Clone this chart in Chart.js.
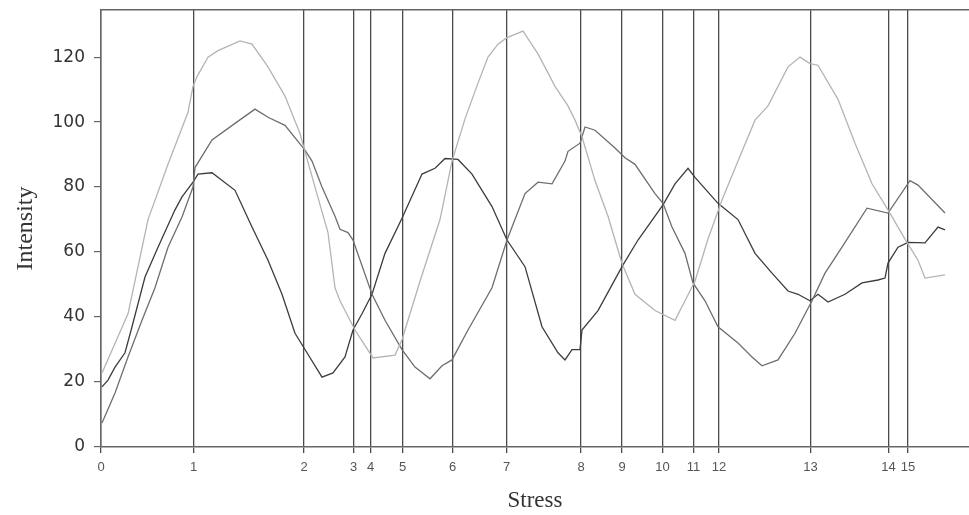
<!DOCTYPE html>
<html>
<head>
<meta charset="utf-8">
<script src="https://cdn.jsdelivr.net/npm/chart.js@4"></script>
<style>
  html, body { margin: 0; padding: 0; background: #fff; }
  #wrap { width: 969px; height: 515px; }
</style>
</head>
<body>
<div id="wrap"><canvas id="chart"></canvas></div>
<script>
// x positions of the stress steps (same units as the curves' x values)
var stressMarks = [0, 18.5, 40.6, 50.5, 53.9, 60.3, 70.3, 81.1, 96, 104.2, 112.3, 118.5, 123.6, 141.9, 157.5, 161.4];
var stressLabels = ['0','1','2','3','4','5','6','7','8','9','10','11','12','13','14','15'];
var yTicks = [0, 20, 40, 60, 80, 100, 120];

// light gray curve
var lightX = [0.2, 5.4, 9.4, 13.4, 17.4, 18.4, 19.2, 21.4, 23.4, 27.8, 30.2, 33.4, 36.8, 39.8, 40.6, 42.8, 45.4, 46.8, 47.8, 50.8, 54.4, 58.8, 60.2, 63.8, 67.8, 70.2, 72.8, 75.4, 77.4, 79.4, 81.2, 84.4, 87.4, 90.8, 93.4, 94.8, 96.2, 98.8, 101.4, 104.2, 106.8, 110.8, 114.8, 116.8, 118.8, 121.4, 124.2, 127.4, 130.8, 133.4, 137.4, 139.8, 141.8, 143.4, 147.4, 150.8, 154.2, 157.4, 160.8, 163.4, 164.8, 168.8];
var lightY = [22.8, 41, 70, 87, 103, 111, 114, 120, 122, 125, 124, 117, 108, 96.5, 92, 80, 66, 49, 45, 36, 27.4, 28.3, 33, 51, 70, 88, 101, 112, 120, 124, 126, 128, 121, 111, 105, 100.6, 95.5, 82, 71, 56.5, 47, 42, 39, 45, 51, 64, 76, 88, 100.6, 105, 117, 120, 118, 117.5, 107, 93.5, 81, 73, 64, 57.5, 52, 53];

// medium gray curve
var midX = [0.2, 2.8, 5.4, 8.2, 10.8, 13.4, 16.2, 18.4, 18.8, 22.2, 26.8, 30.8, 33.4, 36.8, 40.8, 42.2, 44.2, 46.8, 47.8, 49.4, 50.4, 54.2, 56.8, 60.2, 62.8, 65.8, 68.2, 70.2, 73.4, 78.2, 81.2, 84.8, 87.4, 90.2, 92.8, 93.4, 95.8, 96.8, 98.8, 102.8, 104.8, 106.8, 110.8, 112.4, 114.2, 116.8, 118.4, 120.8, 123.4, 127.4, 130.2, 132.2, 135.4, 138.8, 142.2, 144.8, 148.2, 153.2, 157.4, 161.8, 163.4, 168.8];
var midY = [7.4, 16.6, 27.7, 39, 49, 61.5, 70.8, 80, 86, 94.5, 99.6, 104, 101.5, 99, 91.4, 88, 80, 71, 67, 66, 63.7, 47, 39, 30, 24.6, 21, 25, 26.8, 36, 49, 63.7, 78, 81.5, 81, 88, 91, 93.5, 98.5, 97.5, 92, 89, 87, 78, 75, 67.7, 59.6, 50.5, 45, 37, 32, 27.7, 25, 26.8, 35, 45, 53.5, 61.5, 73.5, 72, 82, 80.6, 72];

// dark curve
var darkX = [0.2, 1.4, 2.8, 4.8, 6.2, 8.8, 11.4, 14.8, 16.2, 18.4, 19.4, 22.2, 26.8, 30.2, 33.4, 36.2, 38.8, 40.8, 44.2, 46.4, 48.8, 50.4, 52.2, 54.2, 56.8, 60.2, 64.2, 66.8, 68.8, 71.4, 74.2, 78.2, 81.2, 84.8, 88.2, 91.4, 92.8, 94.2, 95.8, 96.2, 99.4, 104.2, 107.4, 112.4, 114.8, 117.4, 118.8, 123.4, 127.4, 130.8, 134.2, 137.4, 139.4, 141.8, 143.4, 145.4, 148.8, 152.2, 155.4, 156.8, 157.4, 159.4, 161.4, 164.8, 167.4, 168.8];
var darkY = [18.5, 20.6, 24.6, 29, 37, 52.3, 61.5, 73, 77, 81.5, 84, 84.4, 79, 67.7, 57.5, 47, 35, 30, 21.5, 22.8, 27.7, 36, 41, 47, 59.6, 70.4, 84, 85.8, 88.8, 88.5, 84, 74, 63.7, 55.5, 37, 29, 26.8, 30, 30, 36, 42, 55.5, 63.7, 74.5, 81, 85.8, 83, 75, 70, 59.6, 53.5, 48, 47, 45, 47, 44.6, 47, 50.5, 51.4, 52, 56.6, 61.5, 63, 62.8, 67.7, 66.8];

function pts(xs, ys) {
  return xs.map(function (x, i) { return { x: x, y: ys[i] }; });
}

function curve(xs, ys, colour) {
  return {
    data: pts(xs, ys),
    borderColor: colour,
    borderWidth: 1.3,
    pointRadius: 0,
    tension: 0,
    fill: false
  };
}

new Chart(document.getElementById('chart'), {
  type: 'line',
  data: {
    datasets: [
      curve(lightX, lightY, '#b4b4b4'),
      curve(midX, midY, '#6e6e6e'),
      curve(darkX, darkY, '#3c3c3c')
    ]
  },
  options: {
    responsive: true,
    maintainAspectRatio: false,
    animation: false,
    layout: { padding: { top: 10, right: 0, left: 0, bottom: 0 } },
    plugins: { legend: { display: false }, tooltip: { enabled: false } },
    scales: {
      x: {
        type: 'linear',
        min: 0,
        max: 173.6,
        afterBuildTicks: function (scale) {
          scale.ticks = stressMarks.map(function (v) { return { value: v }; });
        },
        afterFit: function (scale) {
          scale.height = 68;
          scale.paddingLeft = 0;
          scale.paddingRight = 0;
        },
        ticks: {
          autoSkip: false,
          maxRotation: 0,
          padding: 7,
          color: '#555',
          font: { family: 'Liberation Sans', size: 13 },
          callback: function (v, i) { return stressLabels[i]; }
        },
        grid: { color: '#4a4a4a', lineWidth: 1.3, tickLength: 6 },
        border: { display: true, color: '#666', width: 1.5 },
        title: {
          display: true,
          text: 'Stress',
          color: '#333',
          font: { family: 'Liberation Serif', size: 23 },
          padding: { top: 0, bottom: 0 }
        }
      },
      xTop: {
        type: 'linear',
        position: 'top',
        min: 0,
        max: 173.6,
        ticks: { display: false },
        grid: { display: false, drawTicks: false },
        border: { display: true, color: '#666', width: 1.5 },
        afterFit: function (scale) { scale.height = 0; }
      },
      y: {
        min: 0,
        max: 134.5,
        afterBuildTicks: function (scale) {
          scale.ticks = yTicks.map(function (v) { return { value: v }; });
        },
        afterFit: function (scale) {
          scale.width = 101;
          scale.paddingTop = 0;
          scale.paddingBottom = 0;
        },
        ticks: {
          padding: 9,
          color: '#333',
          font: { family: 'DejaVu Sans', size: 17 }
        },
        grid: { drawOnChartArea: false, color: '#666', tickLength: 7, lineWidth: 1.2 },
        border: { display: true, color: '#666', width: 1.5 },
        title: {
          display: true,
          text: 'Intensity',
          color: '#333',
          font: { family: 'Liberation Serif', size: 24 },
          padding: { top: 11, bottom: 0 }
        }
      }
    }
  }
});
</script>
</body>
</html>
